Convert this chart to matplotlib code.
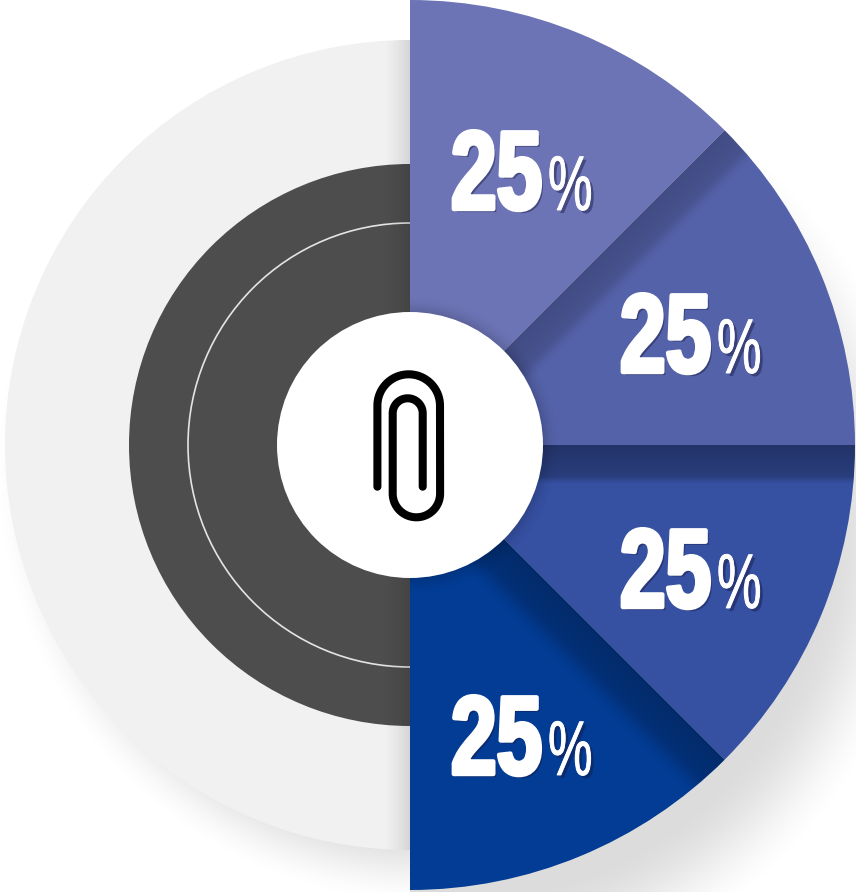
#!/usr/bin/python
# coding=utf-8
import numpy as np
import matplotlib
matplotlib.use('Agg')
import matplotlib.pyplot as plt
import matplotlib.patheffects as pe
from matplotlib.patches import Wedge, Circle, Arc
from matplotlib.transforms import Affine2D

# ============= data =============
slice_values = [25, 25, 25, 25]
hidden_half = [100]
slice_colors = ['#6C74B6', '#5462A9', '#3650A2', '#033C94']
band_alpha = [0, 0.22, 0.36, 0.28]
band_width = [0, 42, 40, 52]
band_soft = [1, 18, 10, 26]
label_x = [450, 619, 619, 450]
label_y = [682, 519, 284, 117]

# ============= layout (pixels, y up) =============
W, H = 856, 892
cx, cy = 410, 447
R_out, R_grey, R_dark, R_line, R_hole = 445, 405, 281, 222, 133

fig = plt.figure(figsize=(W / 100, H / 100), dpi=100, facecolor='white')
ax = fig.add_axes([0, 0, 1, 1])

xx, yy = np.meshgrid(np.arange(W) + 0.5, np.arange(H) + 0.5)
dx, dy = xx - cx, yy - cy


def shade(alpha, zorder, clip=None):
    img = np.zeros((H, W, 4))
    img[..., 3] = np.clip(alpha, 0, 1)
    im = ax.imshow(img, origin='lower', extent=(0, W, 0, H), aspect='auto',
                   interpolation='bilinear', zorder=zorder)
    if clip is not None:
        im.set_clip_path(clip)
    return im


def smooth(t):
    t = np.clip(t, 0, 1)
    return t * t * (3 - 2 * t)


# condensed look: no Impact here, so the glyphs get stretched when drawn
class Stretch(pe.AbstractPathEffect):
    def __init__(self, sy, inner):
        self.sy = sy
        self.inner = inner

    def draw_path(self, renderer, gc, tpath, affine, rgbFace=None):
        a = Affine2D().scale(1, self.sy) + affine
        for e in self.inner:
            e.draw_path(renderer, gc, tpath, a, rgbFace)


# ============= drop shadow =============
left = smooth((440 - np.hypot(xx - 430, yy - (H - 470))) / 90)
right = smooth((485 - np.hypot(xx - 450, yy - (H - 520))) / 110)
shade(np.where(xx < cx, 0.15 * left, 0.14 * right), 1)

# ============= left half =============
grey = Wedge((cx, cy), R_grey, 90, 270, fc='#F1F1F1', ec='none', zorder=2)
ax.add_patch(grey)
dark = Wedge((cx, cy), R_dark, 90, 270, fc='#4D4D4D', ec='none', zorder=3)
ax.add_patch(dark)
ax.add_patch(Arc((cx, cy), 2 * R_line, 2 * R_line, theta1=90, theta2=270,
                 ec='#E4E4E4', lw=1.2, zorder=4))
shade(0.12 * np.clip((dx + 28) / 28, 0, 1) ** 1.5, 5, grey)

# ============= right half =============
wedges, _ = ax.pie(slice_values + hidden_half, colors=slice_colors + ['none'],
                   radius=R_out, center=(cx, cy), startangle=90,
                   counterclock=False, frame=False)
wedges[-1].set_visible(False)
for w in wedges:
    w.set_zorder(6)
    w.set_linewidth(0)

total = sum(slice_values + hidden_half)
start = 0
for i, v in enumerate(slice_values):
    if band_alpha[i] > 0:
        theta = np.radians(90 - start / total * 360)
        dist = np.maximum(dx * np.sin(theta) - dy * np.cos(theta), 0)
        a = band_alpha[i] * (1 - 0.45 * dist / band_width[i])
        shade(a * smooth((band_width[i] - dist) / band_soft[i]), 7, wedges[i])
    start += v

# ============= centre =============
t = np.clip(1 - (np.hypot(dx, dy) - R_hole) / 18, 0, 1)
shade(np.where(xx > cx, 0.15 * t * t, 0), 8)
ax.add_patch(Circle((cx, cy), R_hole, fc='white', ec='none', zorder=9))


def arc(x0, y0, r, a0, a1):
    a = np.radians(np.linspace(a0, a1, 40))
    return x0 + r * np.cos(a), y0 + r * np.sin(a)


# paper clip, centre line of the wire
parts = [arc(408.7, H - 405.6, 31.3, 180, 0),
         arc(416.4, H - 493.6, 23.7, 0, -180),
         arc(407.7, H - 413.3, 15, 180, 0)]
clip_x = np.concatenate([[377.4]] + [p[0] for p in parts] + [[422.7]])
clip_y = np.concatenate([[H - 486.7]] + [p[1] for p in parts] + [[H - 486.7]])
ax.plot(clip_x, clip_y, color='black', lw=5.8, solid_capstyle='round',
        solid_joinstyle='round', zorder=10)

# ============= labels =============
font = ['Liberation Sans', 'DejaVu Sans']
shadow = pe.SimplePatchShadow(offset=(2.2, -2.2), shadow_rgbFace='#15183F', alpha=0.45)
fx_big = [Stretch(1.36, [shadow, pe.Stroke(linewidth=3.2, foreground='white'), pe.Normal()])]
fx_pct = [Stretch(1.55, [shadow, pe.Stroke(linewidth=0.6, foreground='white'), pe.Normal()])]
for i, v in enumerate(slice_values):
    ax.text(label_x[i] + 1, label_y[i] + 1, str(v), color='white', fontsize=59,
            family=font, weight='bold', ha='left', va='baseline',
            zorder=11, path_effects=fx_big)
    ax.text(label_x[i] + 98, label_y[i], '%', color='white', fontsize=36,
            family=font, weight='normal', ha='left', va='baseline',
            zorder=11, path_effects=fx_pct)

ax.set_xlim(0, W)
ax.set_ylim(0, H)
ax.set_aspect('auto')
ax.axis('off')
fig.savefig('out.png', dpi=100, facecolor='white')
